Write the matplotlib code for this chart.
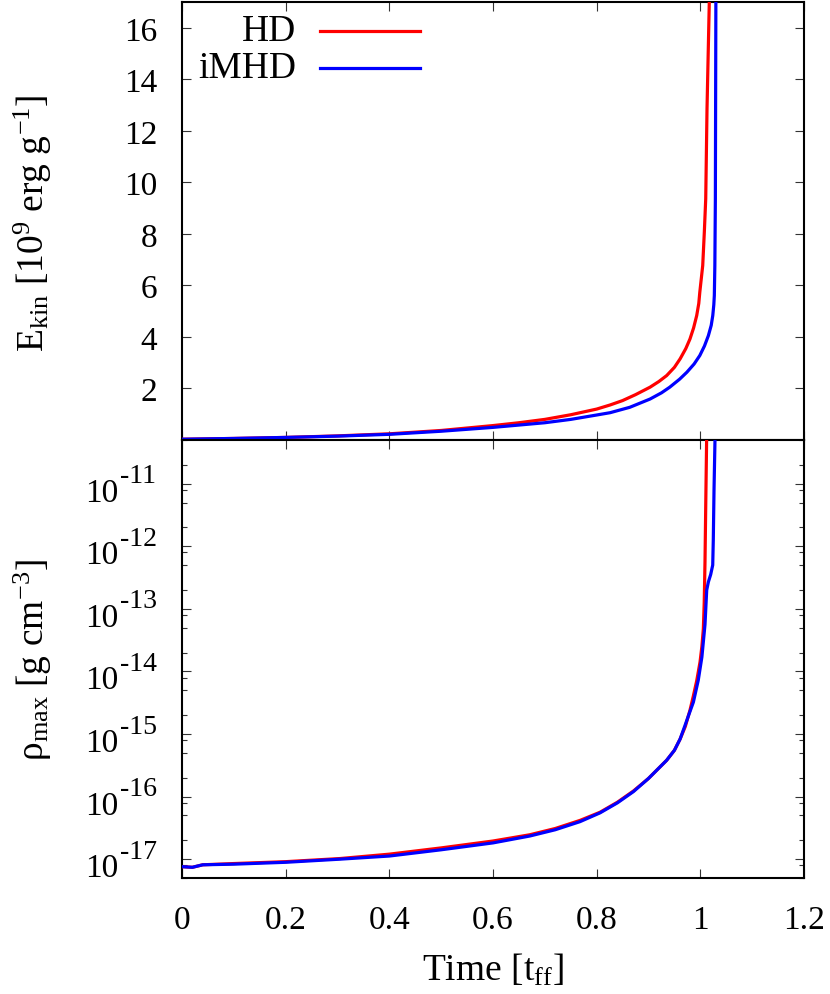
import numpy as np
import matplotlib
matplotlib.use('Agg')
import matplotlib.pyplot as plt
from matplotlib.ticker import FixedLocator, NullFormatter
from matplotlib.lines import Line2D

# ---------------- data ----------------
series_names = ["HD", "iMHD"]
series_colors = ["#ff0000", "#0000ff"]

# kinetic energy [1e9 erg/g] vs time [t_ff]
t_ekin_hd = [0.0, 0.1, 0.2, 0.3, 0.4, 0.5, 0.6, 0.65, 0.7, 0.75, 0.8, 0.826, 0.85,
             0.875, 0.903, 0.92, 0.935, 0.95, 0.961, 0.972, 0.980, 0.987, 0.993,
             0.997, 0.999, 1.0046, 1.0077, 1.0104, 1.0129, 1.0175]
ekin_hd = [0.03, 0.06, 0.10, 0.16, 0.24, 0.37, 0.56, 0.67, 0.80, 0.98, 1.20, 1.36, 1.53,
           1.76, 2.05, 2.27, 2.50, 2.82, 3.15, 3.55, 3.92, 4.35, 4.83,
           5.30, 5.74, 6.77, 8.07, 9.36, 12.86, 17.2]

t_ekin_mhd = [0.0, 0.1, 0.2, 0.3, 0.4, 0.5, 0.6, 0.65, 0.7, 0.75, 0.8, 0.826, 0.864,
              0.903, 0.925, 0.941, 0.96, 0.974, 0.988, 0.999, 1.008, 1.0155, 1.021,
              1.024, 1.026, 1.027, 1.028, 1.029, 1.030]
ekin_mhd = [0.03, 0.06, 0.10, 0.15, 0.22, 0.34, 0.49, 0.58, 0.67, 0.80, 0.97, 1.06, 1.27,
            1.59, 1.83, 2.05, 2.36, 2.63, 2.95, 3.28, 3.65, 4.05, 4.45,
            4.83, 5.25, 5.61, 6.77, 9.36, 17.2]

# maximum density [g cm^-3] (log10) vs time [t_ff]
t_rho_hd = [0.0, 0.02, 0.04, 0.1, 0.2, 0.305, 0.4, 0.5, 0.6, 0.671, 0.72, 0.768, 0.8065,
            0.84, 0.871, 0.9, 0.935, 0.95, 0.961, 0.971, 0.980, 0.9866, 0.993, 0.9994,
            1.003, 1.0058, 1.0075, 1.0090, 1.0105, 1.0123]
logrho_hd = [-17.12, -17.13, -17.09, -17.07, -17.04, -16.99, -16.92, -16.82, -16.71,
             -16.61, -16.51, -16.38, -16.25, -16.09, -15.91, -15.71, -15.42, -15.26,
             -15.08, -14.88, -14.62, -14.39, -14.15, -13.85, -13.60, -13.32, -12.90,
             -12.25, -11.30, -10.2]

t_rho_mhd = [0.0, 0.02, 0.04, 0.1, 0.2, 0.305, 0.4, 0.5, 0.6, 0.671, 0.72, 0.768, 0.8065,
             0.84, 0.871, 0.9, 0.935, 0.95, 0.961, 0.971, 0.977, 0.9866, 0.996, 1.003,
             1.009, 1.0123, 1.0155, 1.0200, 1.0239, 1.0250, 1.0264, 1.0285]
logrho_mhd = [-17.12, -17.13, -17.09, -17.08, -17.05, -17.00, -16.95, -16.85, -16.74,
              -16.63, -16.53, -16.40, -16.26, -16.10, -15.92, -15.71, -15.42, -15.26,
              -15.08, -14.85, -14.71, -14.49, -14.14, -13.77, -13.25, -12.70, -12.57,
              -12.45, -12.30, -11.90, -11.10, -10.2]

x_ticks = [0, 0.2, 0.4, 0.6, 0.8, 1.0, 1.2]
x_tick_labels = ["0", "0.2", "0.4", "0.6", "0.8", "1", "1.2"]
ekin_ticks = [2, 4, 6, 8, 10, 12, 14, 16]
rho_decades = [-17, -16, -15, -14, -13, -12, -11]

# ---------------- style ----------------
plt.rcParams['font.family'] = ['Liberation Serif', 'DejaVu Serif']
plt.rcParams['mathtext.fontset'] = 'custom'
plt.rcParams['mathtext.rm'] = 'Liberation Serif'
plt.rcParams['mathtext.it'] = 'Liberation Serif:italic'
plt.rcParams['mathtext.bf'] = 'Liberation Serif:bold'
plt.rcParams['axes.linewidth'] = 1.5

FS = 24      # tick labels
FL = 27      # axis labels / legend
LW = 2.3
PX = 72 / 100  # points per pixel

fig = plt.figure(figsize=(8.3, 9.95), dpi=100)
L, W = 182 / 830, 622 / 830
H = 438 / 995
ax1 = fig.add_axes([L, 1 - 441 / 995, W, H])
ax2 = fig.add_axes([L, 1 - 879 / 995, W, H])

# top panel
ax1.plot(t_ekin_hd, ekin_hd, color=series_colors[0], lw=LW, zorder=3)
ax1.plot(t_ekin_mhd, ekin_mhd, color=series_colors[1], lw=LW, zorder=3)
ax1.set_xlim(0, 1.2)
ax1.set_ylim(0, 17)
ax1.xaxis.set_major_locator(FixedLocator(x_ticks))
ax1.xaxis.set_major_formatter(NullFormatter())
ax1.yaxis.set_major_locator(FixedLocator(ekin_ticks))
ax1.set_yticklabels([str(v) for v in ekin_ticks])

# bottom panel
ax2.semilogy(t_rho_hd, [10.0 ** v for v in logrho_hd], color=series_colors[0], lw=LW, zorder=3)
ax2.semilogy(t_rho_mhd, [10.0 ** v for v in logrho_mhd], color=series_colors[1], lw=LW, zorder=3)
ax2.set_xlim(0, 1.2)
ax2.set_ylim(5e-18, 5e-11)
ax2.xaxis.set_major_locator(FixedLocator(x_ticks))
ax2.set_xticklabels(x_tick_labels)
major = [10.0 ** d for d in rho_decades]
minor = [m * 10.0 ** d for d in [-18] + rho_decades for m in (2, 5, 8)]
ax2.yaxis.set_major_locator(FixedLocator(major))
ax2.yaxis.set_minor_locator(FixedLocator(minor))
ax2.yaxis.set_major_formatter(NullFormatter())
ax2.yaxis.set_minor_formatter(NullFormatter())

# gnuplot-style "10^-n" labels: big base, large raised exponent
for d in rho_decades:
    ax2.annotate('10', xy=(0, 10.0 ** d), xycoords=('axes fraction', 'data'),
                 xytext=(-64 * PX, -17 * PX), textcoords='offset points',
                 ha='right', va='baseline', fontsize=FS)
    ax2.annotate('-%d' % (-d), xy=(0, 10.0 ** d), xycoords=('axes fraction', 'data'),
                 xytext=(-62 * PX, 1.5 * PX), textcoords='offset points',
                 ha='left', va='baseline', fontsize=20)

for ax in (ax1, ax2):
    ax.tick_params(which='major', direction='in', length=6.5, width=0.8,
                   top=True, right=True, labelsize=FS, color='#333333')
    ax.tick_params(which='minor', direction='in', length=3.6, width=0.8,
                   top=True, right=True, color='#333333')
    ax.tick_params(axis='y', pad=18)
    ax.tick_params(axis='x', pad=19)

ax2.set_xlabel(r'Time [t$_{\mathrm{ff}}$]', fontsize=FL, labelpad=12)
fig.text(33 / 830, 1 - 223 / 995, r'E$_{\mathrm{kin}}$ [10$^{9}$ erg g$^{-1}$]',
         rotation=90, ha='center', va='center', fontsize=FL)
fig.text(33 / 830, 1 - 660 / 995, r'ρ$_{\mathrm{max}}$ [g cm$^{-3}$]',
         rotation=90, ha='center', va='center', fontsize=FL)

# legend (gnuplot style: right-aligned text, sample line to the right)
leg_y = [0.934, 0.849]
for name, col, yy in zip(series_names, series_colors, leg_y):
    ax1.text(0.1833, yy, name, transform=ax1.transAxes, ha='right', va='center', fontsize=FL)
    ax1.add_line(Line2D([0.2219, 0.3826], [yy, yy], transform=ax1.transAxes,
                        color=col, lw=LW))

fig.savefig('out.png', dpi=100)
